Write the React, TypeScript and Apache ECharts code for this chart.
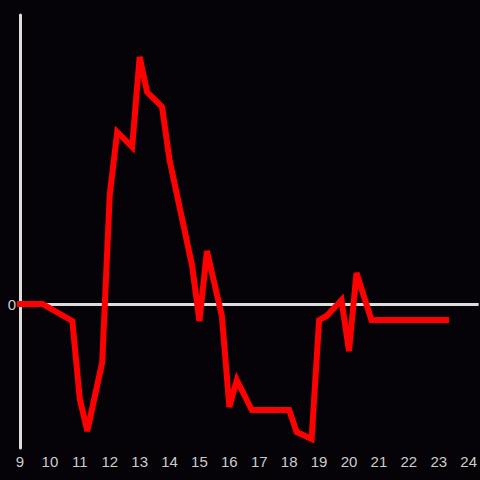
import React, { useEffect, useRef } from "react";
import * as echarts from "echarts";

const hours = [9.0, 9.75, 10.75, 11.0, 11.25, 11.75, 12.0, 12.25, 12.75, 13.0, 13.25, 13.75, 14.0, 14.75, 15.0, 15.25, 15.75, 16.0, 16.25, 16.75, 18.0, 18.25, 18.75, 19.0, 19.25, 19.75, 20.0, 20.25, 20.75, 23.25];
const values = [0, 0, -1.7, -9.5, -12.7, -5.8, 10.9, 17.2, 15.7, 24.7, 21.2, 19.7, 14.4, 3.9, -1.7, 5.3, -1.2, -10.3, -7.6, -10.6, -10.6, -12.8, -13.5, -1.6, -1.2, 0.4, -4.7, 3.1, -1.6, -1.6];
const xTickLabels = ["9", "10", "11", "12", "13", "14", "15", "16", "17", "18", "19", "20", "21", "22", "23", "24"];
const yMin = -14.4;
const yMax = 28.9;

export default function App() {
  const ref = useRef<HTMLDivElement>(null);
  useEffect(() => {
    if (!ref.current) return;
    const chart = echarts.init(ref.current, null, { renderer: "svg" });
    const data = hours.map((h, i) => [h, values[i]]);
    chart.setOption({
      animation: false,
      backgroundColor: "#050307",
      grid: { left: 20, right: 0, top: 15, bottom: 32 },
      xAxis: {
        type: "value",
        min: 9,
        max: 24 + 1 / 3,
        interval: 1,
        axisLine: { show: false },
        axisTick: { show: false },
        splitLine: { show: false },
        axisLabel: {
          color: "#cccccc",
          fontSize: 15,
          margin: 6,
          showMaxLabel: false,
          formatter: (v: number) => {
            const idx = Math.round(v) - 9;
            return Math.abs(v - Math.round(v)) < 1e-6 && idx >= 0 && idx < xTickLabels.length ? xTickLabels[idx] : "";
          },
        },
      },
      yAxis: {
        type: "value",
        min: yMin,
        max: yMax,
        axisLine: { show: true, onZero: false, lineStyle: { color: "#dddddd", width: 3 } },
        axisTick: { show: false },
        splitLine: { show: false },
        axisLabel: {
          color: "#cccccc",
          fontSize: 15,
          margin: 4,
          formatter: (v: number) => (Math.abs(v) < 1e-9 ? "0" : ""),
        },
      },
      series: [
        {
          type: "line",
          data,
          showSymbol: false,
          symbol: "none",
          lineStyle: { color: "#ff0000", width: 6, cap: "square", join: "miter" },
          markLine: {
            silent: true,
            symbol: "none",
            label: { show: false },
            lineStyle: { color: "#dddddd", width: 3, type: "solid" },
            data: [{ yAxis: 0 }],
            z: 1,
          },
          z: 3,
        },
      ],
    });
    return () => chart.dispose();
  }, []);
  return <div ref={ref} style={{ width: 480, height: 480, position: "absolute", left: 0, top: 0 }} />;
}
